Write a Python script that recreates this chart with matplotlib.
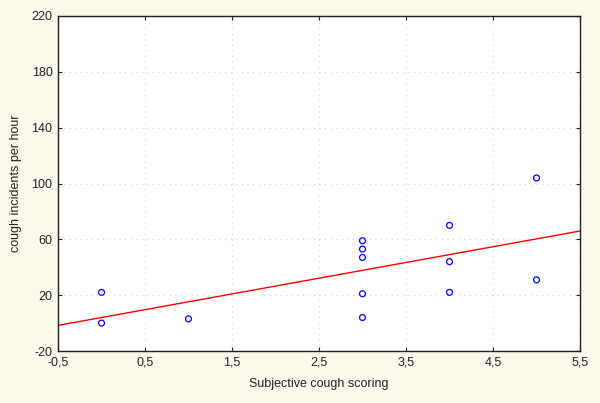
import numpy as np
import matplotlib
matplotlib.use("Agg")
import matplotlib.pyplot as plt

# scores and cough rates
score = [0, 0, 1, 3, 3, 3, 3, 3, 4, 4, 4, 5, 5]
cough = [22, 0, 3, 59, 53, 47, 21, 4, 70, 44, 22, 31, 104]

x_ticks = [-0.5, 0.5, 1.5, 2.5, 3.5, 4.5, 5.5]
y_ticks = [-20, 20, 60, 100, 140, 180, 220]

plt.rcParams['font.family'] = ['Liberation Sans', 'DejaVu Sans']
plt.rcParams['axes.unicode_minus'] = False

fig = plt.figure(figsize=(6, 4.03), dpi=100, facecolor="#fdf8ec")
ax = fig.add_axes([58 / 600, 1 - 351 / 403, 522 / 600, 335 / 403])
ax.set_facecolor("white")

# linear fit
slope, icpt = np.polyfit(score, cough, 1)
xl = np.array([x_ticks[0], x_ticks[-1]])
ax.plot(xl, icpt + slope * xl, color="red", lw=1, zorder=2)

ax.scatter(score, cough, s=18, facecolors="none", edgecolors="blue", linewidths=0.9, zorder=3)

ax.set_xlim(x_ticks[0], x_ticks[-1])
ax.set_ylim(y_ticks[0], y_ticks[-1])
ax.set_xticks(x_ticks)
ax.set_xticklabels([str(v).replace(".", ",") for v in x_ticks])
ax.set_yticks(y_ticks)
ax.grid(True, color="#d4d4d4", linestyle=(0, (1, 4)), lw=0.8)
ax.tick_params(direction="in", length=3, colors="#202020", labelsize=9,
               top=True, right=True, pad=4)
for s in ax.spines.values():
    s.set_color("#202020")
    s.set_linewidth(1)

ax.set_xlabel("Subjective cough scoring", fontsize=9, color="#202020", labelpad=7)
ax.set_ylabel("cough incidents per hour", fontsize=9, color="#202020", labelpad=7)

fig.savefig("out.png", dpi=100, facecolor=fig.get_facecolor())
